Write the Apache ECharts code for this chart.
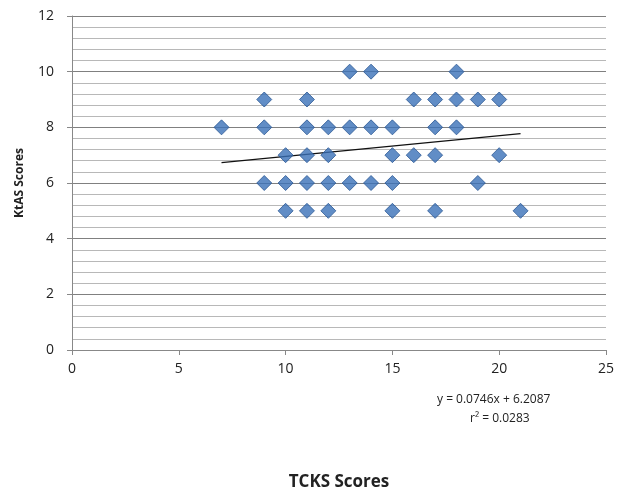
<!DOCTYPE html>
<html><head><meta charset="utf-8">
<script src="https://cdn.jsdelivr.net/npm/echarts@6/dist/echarts.min.js"></script>
<style>html,body{margin:0;padding:0;background:#fff}#c{width:622px;height:495px}</style>
</head><body><div id="c"></div>
<script>
// Observations (TCKS score, KtAS score)
var tcks = [13,14,18, 9,11,16,17,18,19,20, 7,9,11,12,13,14,15,17,18, 10,11,12,15,16,17,20, 9,10,11,12,13,14,15,19, 10,11,12,15,17,21];
var ktas = [10,10,10, 9,9,9,9,9,9,9, 8,8,8,8,8,8,8,8,8, 7,7,7,7,7,7,7, 6,6,6,6,6,6,6,6, 5,5,5,5,5,5];
// Linear trend line endpoints (y = 0.0746x + 6.2087)
var trendX = [7, 21];
var trendY = [6.731, 7.775];
var equationText = ["y = 0.0746x + 6.2087", "r² = 0.0283"];
var xName = "TCKS Scores", yName = "KtAS Scores";

var pts = tcks.map(function(x,i){return [x, ktas[i]];});
var trend = trendX.map(function(x,i){return [x, trendY[i]];});
var font = "'Open Sans', sans-serif";
var chart = echarts.init(document.getElementById('c'));
chart.setOption({
  animation:false,
  grid:{left:72,right:16,top:16,bottom:145,containLabel:false,outerBoundsMode:'none'},
  xAxis:{type:'value',min:0,max:25,interval:5,
    name:xName,nameLocation:'middle',nameGap:124,
    nameTextStyle:{fontFamily:font,fontWeight:'bold',fontSize:17,color:'#222'},
    axisLine:{show:true,lineStyle:{color:'#888',width:1}},
    axisTick:{show:true,length:5,lineStyle:{color:'#888'}},
    axisLabel:{fontFamily:font,fontSize:14,color:'#222',margin:12},
    splitLine:{show:false}},
  yAxis:{type:'value',min:0,max:12,interval:2,
    name:yName,nameLocation:'middle',nameGap:46,
    nameTextStyle:{fontFamily:font,fontWeight:'bold',fontSize:12,color:'#222'},
    axisLine:{show:true,lineStyle:{color:'#888',width:1}},
    axisTick:{show:true,length:5,lineStyle:{color:'#888'}},
    axisLabel:{fontFamily:font,fontSize:14,color:'#222',margin:18},
    splitLine:{show:true,lineStyle:{color:'#808080',width:1.2}},
    minorTick:{show:false,splitNumber:5},
    minorSplitLine:{show:true,lineStyle:{color:'#b8b8b8',width:1.2}}},
  series:[
    {type:'scatter',data:pts,symbol:'diamond',symbolSize:[15,15],
      itemStyle:{color:'#3a70b8',borderColor:'#2a5894',borderWidth:1},z:3},
    {type:'line',data:trend,symbol:'none',lineStyle:{color:'#111',width:1.2},z:2}
  ],
  graphic:[
    {type:'text',left:437,top:394,style:{text:equationText[0],font:"12px "+font,fill:'#222'}},
    {type:'text',left:470,top:413,style:{text:equationText[1],font:"12px "+font,fill:'#222'}}
  ]
});
</script></body></html>
